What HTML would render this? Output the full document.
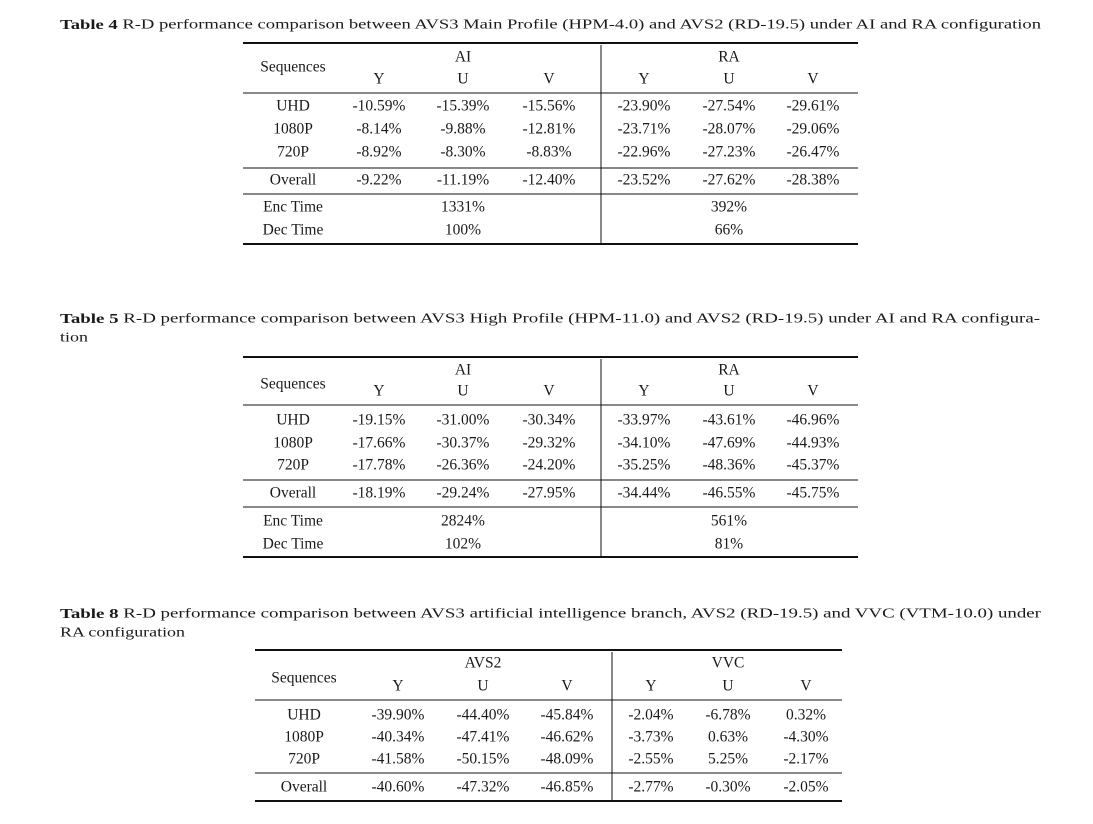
<!DOCTYPE html>
<html><head><meta charset="utf-8"><style>
html,body{margin:0;padding:0;background:#fff;}
svg{display:block;font-family:"Liberation Serif",serif;}
</style></head><body>
<svg id="s" width="1093" height="824" viewBox="0 0 1093 824" xmlns="http://www.w3.org/2000/svg"></svg>
<script>
const NS="http://www.w3.org/2000/svg";
const svg=document.getElementById('s');
function txt(x,y,s,name,opts){
  const t=document.createElementNS(NS,'text');
  t.setAttribute('x',x);t.setAttribute('y',y);
  t.setAttribute('font-size',(opts&&opts.fs)||15.5);
  t.setAttribute('fill','#1a1a1a');
  if(!opts||!opts.left)t.setAttribute('text-anchor','middle');
  if(opts&&opts.len){t.setAttribute('textLength',opts.len);t.setAttribute('lengthAdjust','spacingAndGlyphs');}
  t.setAttribute('dominant-baseline','central');
  
  
  if(opts&&opts.bold){const b=document.createElementNS(NS,'tspan');b.setAttribute('font-weight','bold');b.textContent=opts.bold;t.appendChild(b);}
  t.appendChild(document.createTextNode(s));
  svg.appendChild(t);return t;
}
function line(x1,y1,x2,y2,w,name){
  const l=document.createElementNS(NS,'line');
  l.setAttribute('x1',x1);l.setAttribute('y1',y1);l.setAttribute('x2',x2);l.setAttribute('y2',y2);
  l.setAttribute('stroke','#111');l.setAttribute('stroke-width',w);
  
  
  svg.appendChild(l);
}
const rowLabels=["UHD","1080P","720P"];
const t4=[["-10.59%","-15.39%","-15.56%","-23.90%","-27.54%","-29.61%"],["-8.14%","-9.88%","-12.81%","-23.71%","-28.07%","-29.06%"],["-8.92%","-8.30%","-8.83%","-22.96%","-27.23%","-26.47%"]];
const t4o=["-9.22%","-11.19%","-12.40%","-23.52%","-27.62%","-28.38%"];
const t5=[["-19.15%","-31.00%","-30.34%","-33.97%","-43.61%","-46.96%"],["-17.66%","-30.37%","-29.32%","-34.10%","-47.69%","-44.93%"],["-17.78%","-26.36%","-24.20%","-35.25%","-48.36%","-45.37%"]];
const t5o=["-18.19%","-29.24%","-27.95%","-34.44%","-46.55%","-45.75%"];
const t8=[["-39.90%","-44.40%","-45.84%","-2.04%","-6.78%","0.32%"],["-40.34%","-47.41%","-46.62%","-3.73%","0.63%","-4.30%"],["-41.58%","-50.15%","-48.09%","-2.55%","5.25%","-2.17%"]];
const t8o=["-40.60%","-47.32%","-46.85%","-2.77%","-0.30%","-2.05%"];

function table(cfg){
  const p=cfg.prefix, c=cfg.cols, x0=cfg.x0, x1=cfg.x1, vx=cfg.vx, y=cfg.y;
  line(x0,y.top,x1,y.top,2,p+'-top-rule');
  txt(c[0],y.seq,"Sequences",p+'-sequences-header');
  txt(c[2],y.h1,cfg.g1,p+'-group1-header');
  txt(c[5],y.h1,cfg.g2,p+'-group2-header');
  ["Y","U","V","Y","U","V"].forEach((h,i)=>txt(c[i+1],y.h2,h,p+'-col-header'));
  line(x0,y.r1,x1,y.r1,1,p+'-header-rule');
  cfg.rows.forEach((r,ri)=>{
    txt(c[0],y.rows[ri],rowLabels[ri],p+'-row-label');
    r.forEach((v,i)=>txt(c[i+1],y.rows[ri],v,p+'-cell'));
  });
  line(x0,y.r2,x1,y.r2,1,p+'-overall-rule');
  txt(c[0],y.ov,"Overall",p+'-overall-label');
  cfg.overall.forEach((v,i)=>txt(c[i+1],y.ov,v,p+'-overall-cell'));
  if(cfg.enc){
    line(x0,y.r3,x1,y.r3,1,p+'-time-rule');
    txt(c[0],y.enc,"Enc Time",p+'-enc-label');
    txt(c[2],y.enc,cfg.enc[0],p+'-enc-ai');
    txt(c[5],y.enc,cfg.enc[1],p+'-enc-ra');
    txt(c[0],y.dec,"Dec Time",p+'-dec-label');
    txt(c[2],y.dec,cfg.dec[0],p+'-dec-ai');
    txt(c[5],y.dec,cfg.dec[1],p+'-dec-ra');
  }
  line(x0,y.bot,x1,y.bot,2,p+'-bottom-rule');
  line(vx,y.top+2,vx,y.bot-1,1,p+'-vertical-divider');
}
const colsA=[293,379,463,549,644,729,813];
txt(60,25," R-D performance comparison between AVS3 Main Profile (HPM-4.0) and AVS2 (RD-19.5) under AI and RA configuration","table4-caption",{left:true,bold:"Table 4 ",len:981,fs:14});
table({prefix:'table4',cols:colsA,x0:243,x1:858,vx:601,g1:"AI",g2:"RA",rows:t4,overall:t4o,enc:["1331%","392%"],dec:["100%","66%"],
 y:{top:43,seq:67,h1:57,h2:79,r1:93,rows:[106,129,152],r2:168,ov:180,r3:194,enc:207,dec:230,bot:244}});
txt(60,319," R-D performance comparison between AVS3 High Profile (HPM-11.0) and AVS2 (RD-19.5) under AI and RA configura-","table5-caption",{left:true,bold:"Table 5 ",len:980,fs:14});
txt(60,338,"tion","table5-caption-line2",{left:true,len:28,fs:14});
table({prefix:'table5',cols:colsA,x0:243,x1:858,vx:601,g1:"AI",g2:"RA",rows:t5,overall:t5o,enc:["2824%","561%"],dec:["102%","81%"],
 y:{top:357,seq:384,h1:370,h2:391,r1:405,rows:[420,443,465],r2:480,ov:493,r3:507,enc:521,dec:544,bot:557}});
txt(60,614," R-D performance comparison between AVS3 artificial intelligence branch, AVS2 (RD-19.5) and VVC (VTM-10.0) under","table8-caption",{left:true,bold:"Table 8 ",len:981,fs:14});
txt(60,633,"RA configuration","table8-caption-line2",{left:true,len:125,fs:14});
table({prefix:'table8',cols:[304,398,483,567,651,728,806],x0:255,x1:842,vx:612,g1:"AVS2",g2:"VVC",rows:t8,overall:t8o,
 y:{top:650,seq:678,h1:663,h2:686,r1:700,rows:[715,737,759],r2:773,ov:787,bot:801}});
</script>
</body></html>
